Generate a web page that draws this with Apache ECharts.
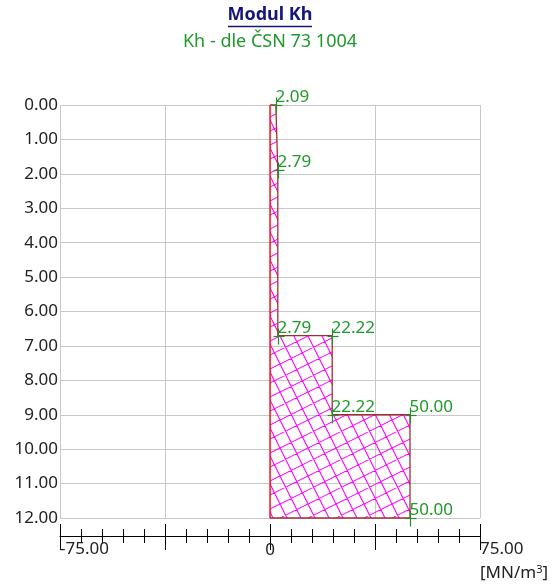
<!DOCTYPE html>
<html>
<head>
<meta charset="utf-8">
<script src="https://cdn.jsdelivr.net/npm/echarts@6/dist/echarts.min.js"></script>
<style>
  html, body { margin: 0; padding: 0; background: #fff; }
  #chart { width: 553px; height: 588px; }
</style>
</head>
<body>
<div id="chart"></div>
<script>
// Modulus of subgrade reaction Kh versus depth
const kValues = [2.09, 2.79, 2.79, 22.22, 22.22, 50.00, 50.00];
const kDepths = [0.0, 1.9, 6.7, 6.7, 9.0, 9.0, 12.0];
const titleText = 'Modul Kh';
const subtitleText = 'Kh - dle ČSN 73 1004';

const FONT = '"Noto Sans", "Open Sans", sans-serif';
const GREEN = '#1f9a2a';
const BROWN = '#a03030';

// cross-hatch fill: square grid of magenta lines, tilted
function makeHatch() {
  const T = 28;
  const c = document.createElement('canvas');
  c.width = T; c.height = T;
  const g = c.getContext('2d');
  g.strokeStyle = '#ff00ff';
  g.lineWidth = 1.1;
  g.beginPath();
  for (let k = -3; k <= 4; k++) {
    // steep family: y = 2x - T*k
    g.moveTo(-T, -2 * T - T * k);
    g.lineTo(2 * T, 4 * T - T * k);
    // shallow family: y = (T*k - x) / 2
    g.moveTo(-T, (T * k + T) / 2);
    g.lineTo(2 * T, (T * k - 2 * T) / 2);
  }
  g.stroke();
  return c;
}
const hatch = makeHatch();

const chart = echarts.init(document.getElementById('chart'));

const profile = kValues.map((v, i) => [v, kDepths[i]]);

const tickAxisBase = {
  type: 'value', min: -75, max: 75, interval: 37.5,
  position: 'bottom', offset: 18
};

chart.setOption({
  animation: false,
  backgroundColor: '#fff',
  grid: { left: 60, right: 73, top: 105, bottom: 70 },
  xAxis: [
    Object.assign({}, tickAxisBase, {
      axisLine: { show: true, onZero: false, lineStyle: { color: '#000', width: 1 } },
      axisTick: { show: true, length: 14, lineStyle: { color: '#000' } },
      minorTick: { show: true, splitNumber: 5, length: 7, lineStyle: { color: '#000' } },
      axisLabel: {
        showMinLabel: true, showMaxLabel: true,
        formatter: v => (v === -75 || v === 75) ? v.toFixed(2) : '',
        align: 'left', verticalAlign: 'top', margin: 5,
        fontFamily: FONT, fontSize: 17, color: '#222'
      },
      splitLine: { show: true, lineStyle: { color: '#c8c8c8', width: 1 } }
    }),
    Object.assign({}, tickAxisBase, {
      axisLine: { show: false, onZero: false },
      axisTick: { show: true, inside: true, length: 12, lineStyle: { color: '#000' } },
      minorTick: { show: true, splitNumber: 5, length: 7, lineStyle: { color: '#000' } },
      axisLabel: {
        formatter: v => v === 0 ? '0' : '',
        align: 'center', verticalAlign: 'top', margin: 6,
        fontFamily: FONT, fontSize: 17, color: '#222'
      },
      splitLine: { show: false }
    })
  ],
  yAxis: {
    type: 'value', inverse: true, min: 0, max: 12, interval: 1,
    axisLine: { show: true, lineStyle: { color: '#c0c0c0' } },
    axisTick: { show: false },
    axisLabel: {
      formatter: v => v.toFixed(2), margin: 2,
      fontFamily: FONT, fontSize: 17, color: '#222'
    },
    splitLine: { show: true, lineStyle: { color: '#c8c8c8', width: 1 } }
  },
  graphic: [
    {
      type: 'text', x: 270, y: 6,
      style: {
        text: titleText, textAlign: 'center', textVerticalAlign: 'top',
        font: 'bold 18px ' + FONT, fill: '#15157a'
      }
    },
    {
      type: 'line', shape: { x1: 228, y1: 26.5, x2: 312, y2: 26.5 },
      style: { stroke: '#15157a', lineWidth: 1.5 }
    },
    {
      type: 'text', x: 270, y: 33,
      style: {
        text: subtitleText, textAlign: 'center', textVerticalAlign: 'top',
        font: '18px ' + FONT, fill: GREEN
      }
    },
    {
      type: 'text', x: 480, y: 564,
      style: {
        text: '[MN/m{sup|3}]',
        font: '17px ' + FONT, fill: '#222',
        rich: {
          sup: { fontSize: 11, fontFamily: FONT, fill: '#222', verticalAlign: 'top', padding: [0, 0, 8, 0] }
        }
      }
    }
  ],
  series: [
    {
      // hatched area under the profile
      type: 'custom',
      data: [0],
      z: 3,
      renderItem: (params, api) => {
        const bottom = kDepths[kDepths.length - 1];
        const pts = [[0, 0]].concat(profile, [[0, bottom]]);
        const poly = pts.map(p => api.coord(p));
        const top = api.coord([0, 0]);
        const bot = api.coord([0, bottom]);
        return {
          type: 'group',
          children: [
            { type: 'polygon', shape: { points: poly },
              style: { fill: { image: hatch, repeat: 'repeat' }, stroke: null } },
            { type: 'polyline', shape: { points: poly },
              style: { stroke: BROWN, lineWidth: 1.3, fill: null } },
            { type: 'line', shape: { x1: top[0], y1: top[1], x2: bot[0], y2: bot[1] },
              style: { stroke: '#ff0000', lineWidth: 1.3 } }
          ]
        };
      }
    },
    {
      // value markers with labels
      type: 'custom',
      data: profile,
      z: 5,
      renderItem: (params, api) => {
        const p = api.coord([api.value(0), api.value(1)]);
        const x = Math.round(p[0]) + 0.5, y = Math.round(p[1]) + 0.5;
        return {
          type: 'group',
          children: [
            { type: 'line', shape: { x1: x, y1: y - 8, x2: x, y2: y + 8 },
              style: { stroke: '#2a8a2a', lineWidth: 1.2 } },
            { type: 'line', shape: { x1: x - 5, y1: y, x2: x + 6, y2: y },
              style: { stroke: '#2a8a2a', lineWidth: 1.2 } },
            { type: 'text', x: x - 1, y: y,
              style: { text: api.value(0).toFixed(2), textAlign: 'left', textVerticalAlign: 'bottom',
                       font: '17px ' + FONT, fill: GREEN } }
          ]
        };
      }
    }
  ]
});
</script>
</body>
</html>
